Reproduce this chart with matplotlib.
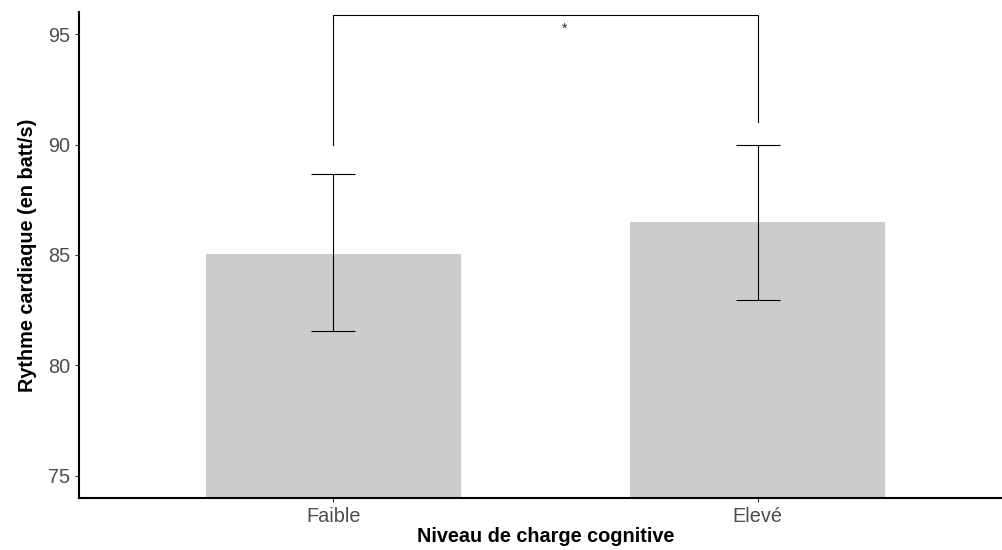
import matplotlib
matplotlib.use("Agg")
import matplotlib.pyplot as plt

categories = ["Faible", "Elevé"]
means = [85.05, 86.5]
lower = [81.55, 82.97]
upper = [88.65, 89.97]
bracket_left = 89.98
bracket_right = 91.02
bracket_top = 95.86
star_x = 1.545
star_y = 95.25
yticks = [75, 80, 85, 90, 95]

plt.rcParams['font.family'] = ['Liberation Sans', 'DejaVu Sans']

fig = plt.figure(figsize=(10.03, 5.5), dpi=100)
W, H = 1003, 550
left, right, top, bottom = 79, 1012, 12, 498
ax = fig.add_axes([left / W, 1 - bottom / H, (right - left) / W, (bottom - top) / H])

x = [1, 2]
ax.bar(x, [m - 74 for m in means], bottom=74, width=0.6, color='#cccccc', zorder=1)
yerr = [[m - l for m, l in zip(means, lower)], [u - m for m, u in zip(means, upper)]]
ax.errorbar(x, means, yerr=yerr, fmt='none', ecolor='black', elinewidth=0.8,
            capsize=15.8, capthick=0.8, zorder=2)

ax.plot([1, 1, 2, 2], [bracket_left, bracket_top, bracket_top, bracket_right],
        color='black', lw=0.8, zorder=3)
ax.text(star_x, star_y, '*', ha='center', va='center', fontsize=10, color='#1a2a3a')

ax.set_xlim(0.4, 2.6)
ax.set_ylim(74, 96)
ax.set_xticks(x)
ax.set_xticklabels(categories)
ax.set_yticks(yticks)
ax.tick_params(axis='both', labelsize=14.3, colors='#333333', length=3, width=0.8,
               labelcolor='#4d4d4d')
for s in ['top', 'right']:
    ax.spines[s].set_visible(False)
for s in ['left', 'bottom']:
    ax.spines[s].set_linewidth(1.5)
ax.set_xlabel('Niveau de charge cognitive', fontsize=14.3, fontweight='bold', labelpad=1)
ax.set_ylabel('Rythme cardiaque (en batt/s)', fontsize=14.3, fontweight='bold', labelpad=8)

fig.savefig('out.png', dpi=100)
